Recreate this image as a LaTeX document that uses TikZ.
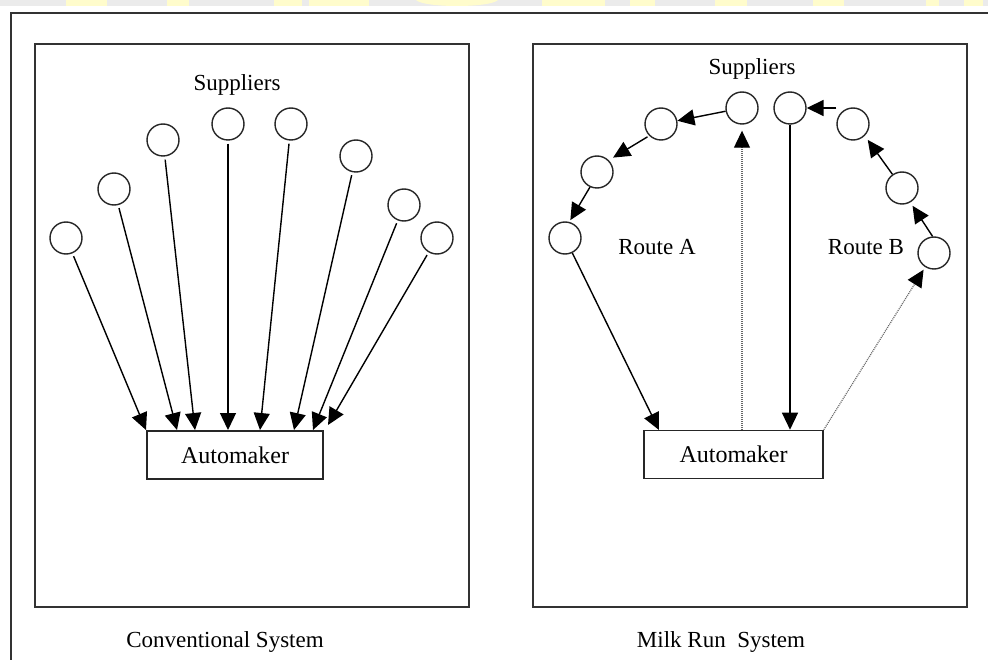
\documentclass[tikz,border=0pt]{standalone}
\usepackage{fontspec}
\setmainfont{Liberation Serif}
\usetikzlibrary{arrows.meta,calc}
\begin{document}
\begin{tikzpicture}[x=1pt,y=-1pt,
  supplier/.style={circle,draw=black!85,line width=1.4pt,minimum size=32pt,inner sep=0pt},
  plant/.style={rectangle,draw=black!85,line width=1.6pt,minimum height=48pt,inner sep=0pt,font=\fontsize{24}{28}\selectfont},
  panel/.style={draw=black!80,line width=2pt},
  caption/.style={font=\fontsize{23}{27}\selectfont,inner sep=0pt},
  flow/.style={line width=1.4pt,-{Triangle[length=17pt,width=16pt]}},
  trip/.style={line width=1.2pt,black!60,dash pattern=on 1pt off 1pt,-{Triangle[length=17pt,width=16pt,color=black]}},
]
\useasboundingbox (0,0) rectangle (988,660);
\clip (0,0) rectangle (988,660);
\fill[white] (0,0) rectangle (988,660);

% header strip
\fill[black!8] (0,0) rectangle (988,6);
\foreach \a/\b in {66/107,167/189,274/302,309/369,542/605,630/655,715/747,813/844,926/939,964/983}
  \fill[yellow!20] (\a,0) rectangle (\b,6);
\fill[yellow!20] (416,0) -- (498,0) .. controls (490,8) and (424,8) .. (416,0) -- cycle;

% outer frame
\draw[panel] (11,680) -- (11,13) -- (1000,13);

% panels
\draw[panel] (35,44) rectangle (469,607);
\draw[panel] (533,44) rectangle (967,607);

% ---------- conventional system ----------
\node[caption] (supL) at (237,85) {Suppliers};
\node[plant,minimum width=176pt] (amL) at (235,455) {Automaker};

\node[supplier] (L1) at (66,238) {};
\node[supplier] (L2) at (114,189) {};
\node[supplier] (L3) at (163,140) {};
\node[supplier] (L4) at (228,124) {};
\node[supplier] (L5) at (291,124) {};
\node[supplier] (L6) at (356,156) {};
\node[supplier] (L7) at (404,205) {};
\node[supplier] (L8) at (437,238) {};

\coordinate (t1) at (146,430);
\coordinate (t2) at (177,430);
\coordinate (t3) at (195,430);
\coordinate (t4) at (228,430);
\coordinate (t5) at (260,430);
\coordinate (t6) at (294,430);
\coordinate (t7) at (313,430);
\coordinate (t8) at (328,425);

\foreach \i in {1,...,8}
  \draw[flow,shorten <=3pt] (L\i) -- (t\i);

\node[caption] at (225,642) {Conventional System};

% ---------- milk run system ----------
\node[caption] (supR) at (752,69) {Suppliers};
\node[plant,minimum width=179pt] (amR) at (733.5,454.5) {Automaker};

\node[supplier] (A1) at (742,108) {};
\node[supplier] (A2) at (661,124) {};
\node[supplier] (A3) at (597,172) {};
\node[supplier] (A4) at (565,238) {};
\node[supplier] (B0) at (790,108) {};
\node[supplier] (B1) at (853,124) {};
\node[supplier] (B2) at (902,188) {};
\node[supplier] (B3) at (934,253) {};

\node[caption] (rA) at (657,247) {Route A};
\node[caption] (rB) at (866,247) {Route B};

% route A
\draw[trip,shorten >=6pt] (amR.north -| A1) -- (A1);
\draw[flow] (A1) -- (A2);
\draw[flow,shorten <=2pt,shorten >=5pt] (A2.-135) -- (A3.45);
\draw[flow,shorten >=2pt] (A3.-115) -- (A4.75);
\coordinate (tA) at (659,430);
\draw[flow] (A4) -- (tA);

% route B
\draw[trip,shorten >=3pt] (amR.north east) -- (B3);
\draw[flow,shorten >=4pt] (B3.95) -- (B2.-60);
\draw[flow,shorten >=5pt] (B2.125) -- (B1.-45);
\draw[flow,line width=1.8pt] (B1.west |- B0) -- (B0);
\draw[flow] (B0) -- (B0 |- amR.north);

\node[caption] at (721,642) {Milk Run~ System};
\end{tikzpicture}
\end{document}
